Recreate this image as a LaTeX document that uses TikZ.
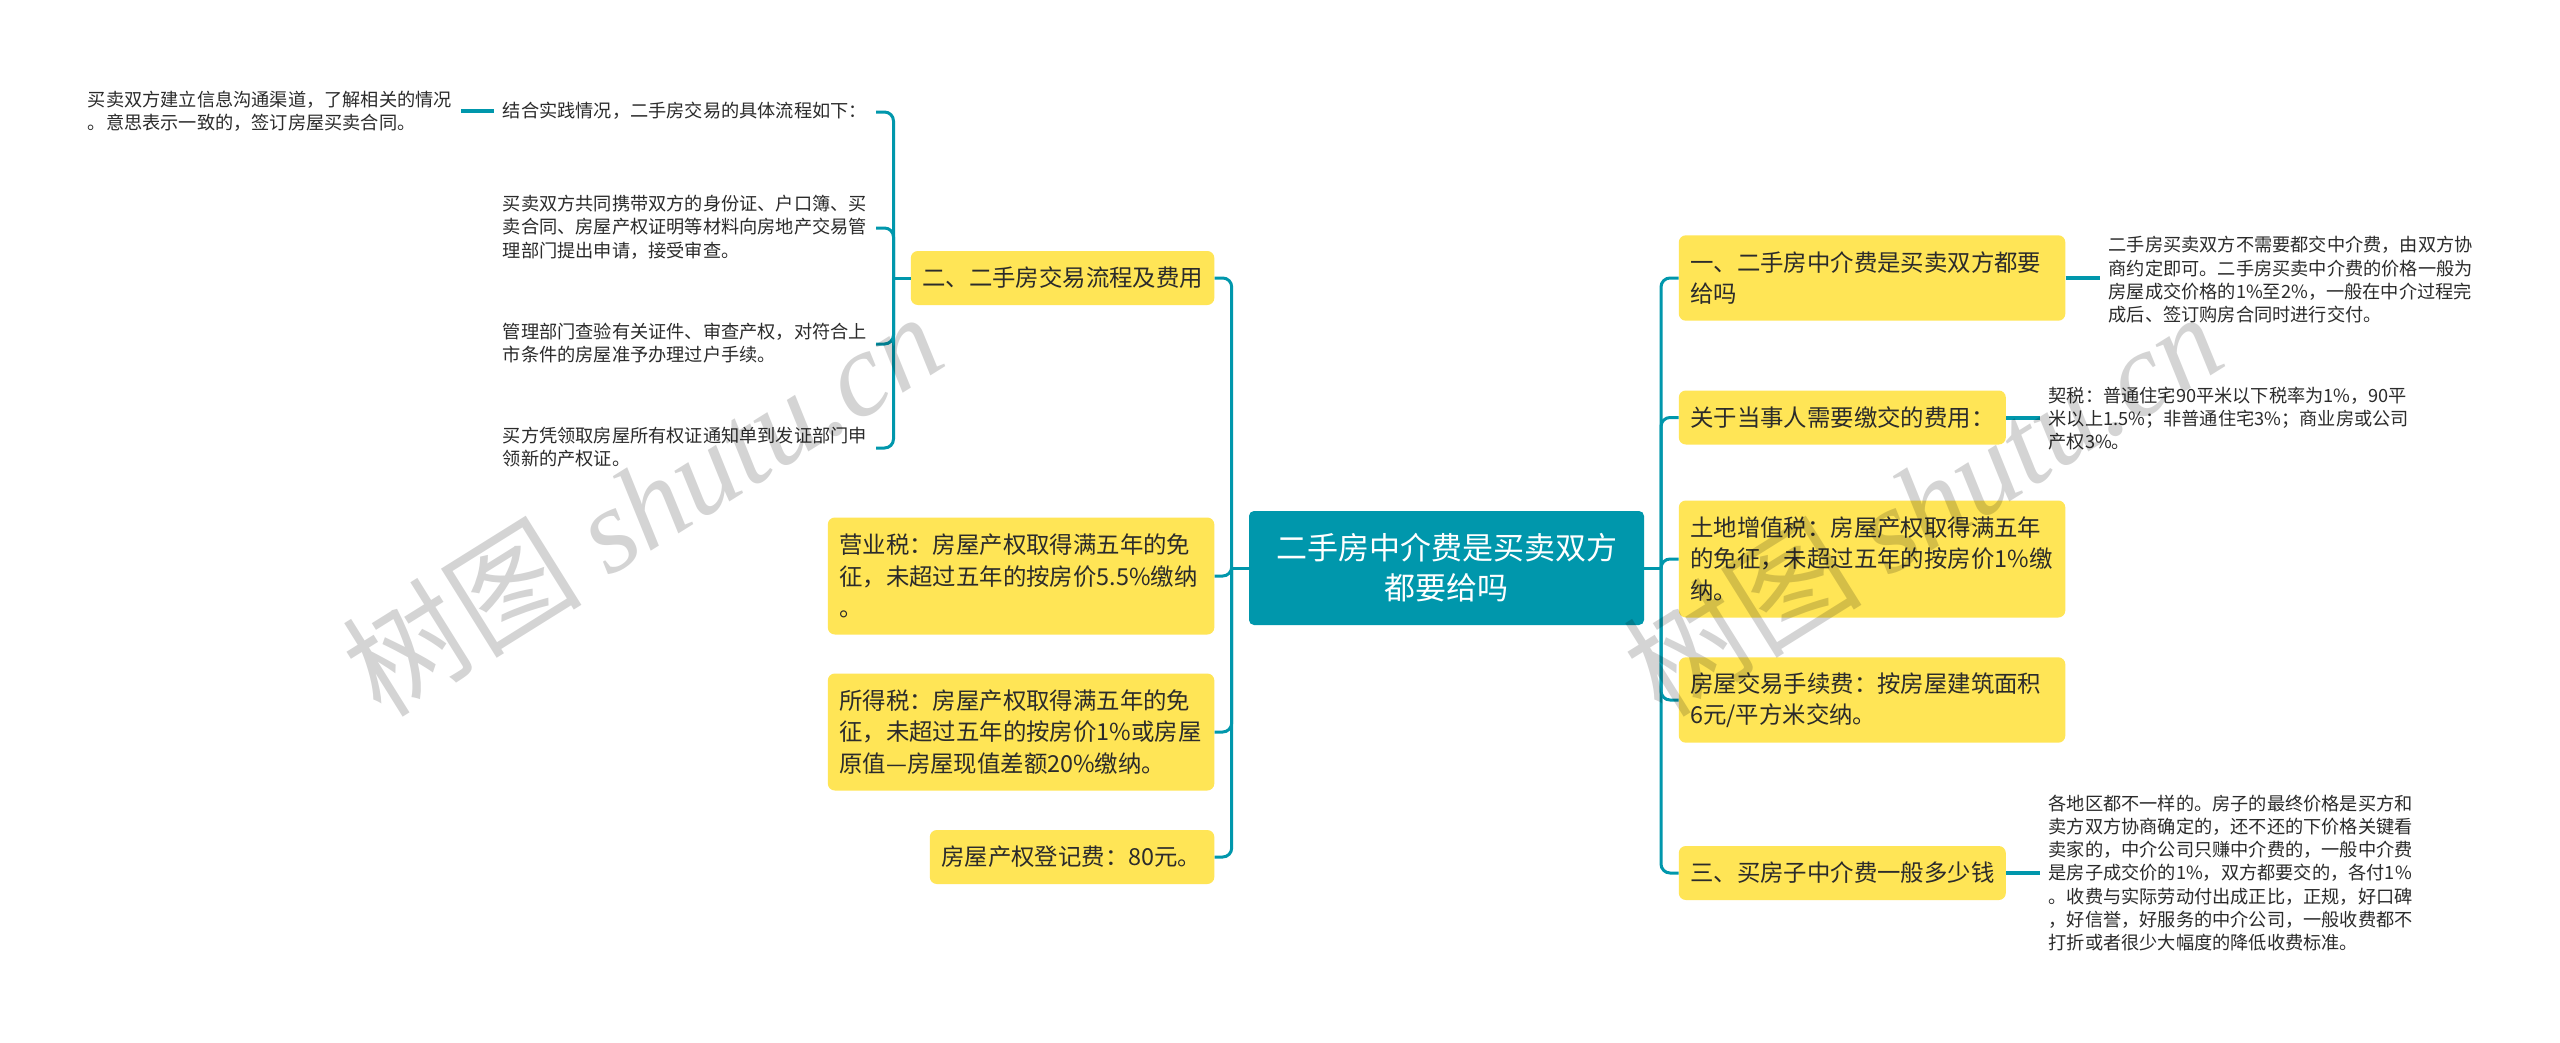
\documentclass[tikz,border=0pt]{standalone}
\usepackage{fontspec}
\setmainfont{Noto Sans CJK SC}
\newfontfamily\markfont{Liberation Serif}
\definecolor{tealroot}{HTML}{0097AC}
\definecolor{yellowbox}{HTML}{FFE556}
\definecolor{inktext}{HTML}{2B2B2B}
\tikzset{
  rootnode/.style={fill=tealroot,text=white,rounded corners=5pt,inner sep=0pt,minimum width=395pt,minimum height=114pt,align=center,font=\fontsize{31}{40}\selectfont},
  topic/.style={fill=yellowbox,text=inktext,rounded corners=7pt,inner ysep=0pt,inner xsep=11.5pt,text width=#1,align=left,font=\fontsize{23.4}{31.7}\selectfont},
  leaf/.style={text=inktext,inner ysep=0pt,inner xsep=9pt,text width=#1,align=left,font=\fontsize{18.2}{23.3}\selectfont},
  trunk/.style={draw=tealroot,line width=3pt,rounded corners=9pt},
  stub/.style={draw=tealroot,line width=4pt},
  watermark/.style={text=black,opacity=.17,rotate=32,font=\fontsize{120}{120}\selectfont}
}
\begin{document}
\begin{tikzpicture}[x=1pt,y=-1pt]
  \useasboundingbox [fill=white] (0,0) rectangle (2560,1042);

  \node [rootnode] (root) at (1446.5,568) {二手房中介费是买卖双方\\都要给吗};

  % left side
  \node [topic=280.5pt,minimum height=54pt,anchor=east] (flow) at (1214.5,278) {二、二手房交易流程及费用};
  \node [topic=363.5pt,minimum height=117pt,anchor=east] (yingye) at (1214.5,576) {营业税：房屋产权取得满五年的免\\征，未超过五年的按房价5.5\%缴纳\\。};
  \node [topic=363.5pt,minimum height=117pt,anchor=east] (suode) at (1214.5,732) {所得税：房屋产权取得满五年的免\\征，未超过五年的按房价1\%或房屋\\原值—房屋现值差额20\%缴纳。};
  \node [topic=261.5pt,minimum height=54pt,anchor=east] (dengji) at (1214.5,857) {房屋产权登记费：80元。};

  \node [leaf=364pt,anchor=east] (combine) at (876,111) {结合实践情况，二手房交易的具体流程如下：};
  \node [leaf=364pt,anchor=east] (submit) at (876,227) {买卖双方共同携带双方的身份证、户口簿、买\\卖合同、房屋产权证明等材料向房地产交易管\\理部门提出申请，接受审查。};
  \node [leaf=364pt,anchor=east] (check) at (876,343) {管理部门查验有关证件、审查产权，对符合上\\市条件的房屋准予办理过户手续。};
  \node [leaf=364pt,anchor=east] (collect) at (876,447) {买方凭领取房屋所有权证通知单到发证部门申\\领新的产权证。};
  \node [leaf=364pt,anchor=east] (contact) at (461,111) {买卖双方建立信息沟通渠道，了解相关的情况\\。意思表示一致的，签订房屋买卖合同。};

  % right side
  \node [topic=363.5pt,minimum height=85.4pt,anchor=west] (one) at (1678.6,278) {一、二手房中介费是买卖双方都要\\给吗};
  \node [topic=304pt,minimum height=54pt,anchor=west] (party) at (1678.6,417.5) {关于当事人需要缴交的费用：};
  \node [topic=363.5pt,minimum height=117pt,anchor=west] (land) at (1678.6,559) {土地增值税：房屋产权取得满五年\\的免征，未超过五年的按房价1\%缴\\纳。};
  \node [topic=363.5pt,minimum height=85.4pt,anchor=west] (deal) at (1678.6,700) {房屋交易手续费：按房屋建筑面积\\6元/平方米交纳。};
  \node [topic=304pt,minimum height=54pt,anchor=west] (three) at (1678.6,873) {三、买房子中介费一般多少钱};

  \node [leaf=364pt,anchor=west] (onenote) at (2099.5,280) {二手房买卖双方不需要都交中介费，由双方协\\商约定即可。二手房买卖中介费的价格一般为\\房屋成交价格的1\%至2\%，一般在中介过程完\\成后、签订购房合同时进行交付。};
  \node [leaf=364pt,anchor=west] (partynote) at (2039.5,418.5) {契税：普通住宅90平米以下税率为1\%，90平\\米以上1.5\%；非普通住宅3\%；商业房或公司\\产权3\%。};
  \node [leaf=366pt,anchor=west] (threenote) at (2039.5,873) {各地区都不一样的。房子的最终价格是买方和\\卖方双方协商确定的，还不还的下价格关键看\\卖家的，中介公司只赚中介费的，一般中介费\\是房子成交价的1\%，双方都要交的，各付1\%\\。收费与实际劳动付出成正比，正规，好口碑\\，好信誉，好服务的中介公司，一般收费都不\\打折或者很少大幅度的降低收费标准。};

  % connectors
  \coordinate (lefttrunk) at (1231.7,568);
  \coordinate (righttrunk) at (1661,568);
  \coordinate (flowtrunk) at (893.5,278);

  \draw [trunk] (root.west) -- (lefttrunk);
  \draw [trunk] (root.east) -- (righttrunk);
  \draw [trunk] (flow.west) -- (flowtrunk);
  \foreach \n in {flow,yingye,suode,dengji}
    \draw [trunk] (lefttrunk) |- (\n.east);
  \foreach \n in {one,party,land,deal,three}
    \draw [trunk] (righttrunk) |- (\n.west);
  \foreach \n in {combine,submit,check,collect}
    \draw [trunk] (flowtrunk) |- ([yshift=-1pt]\n.east);

  \draw [stub] (combine.west) -- (contact.east |- combine.west);
  \draw [stub] (one.east) -- (onenote.west |- one.east);
  \draw [stub] (party.east) -- (partynote.west |- party.east);
  \draw [stub] (three.east) -- (threenote.west |- three.east);

  \node [watermark] (markleft) at (642,503) {树图\ {\markfont\itshape shutu.cn}};
  \node [watermark] (markright) at (1922,503) {树图\ {\markfont\itshape shutu.cn}};
\end{tikzpicture}
\end{document}
